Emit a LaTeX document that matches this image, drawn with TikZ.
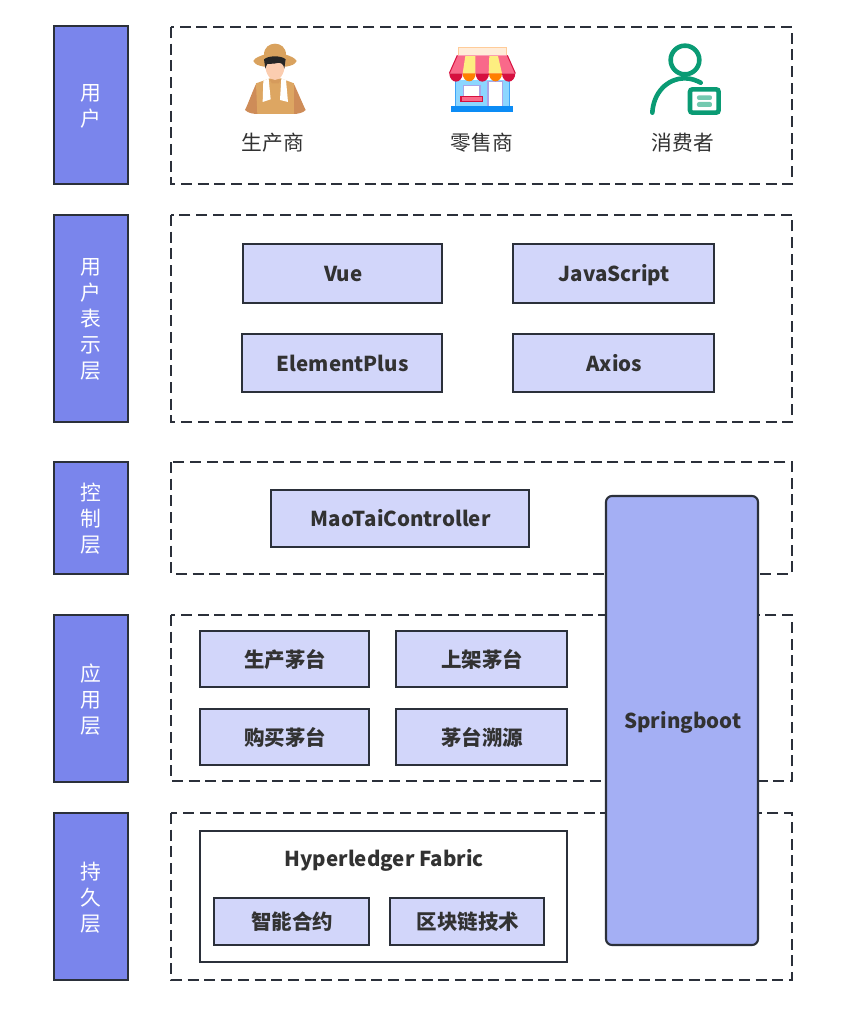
\documentclass[tikz,border=0pt]{standalone}
\usepackage{fontspec}
\setmainfont{Noto Sans CJK SC}
\definecolor{ink}{HTML}{2B303A}
\definecolor{txt}{HTML}{323232}
\definecolor{barfill}{HTML}{7A85EC}
\definecolor{innerfill}{HTML}{D2D6FA}
\definecolor{springfill}{HTML}{A4AFF4}
\definecolor{hatc}{HTML}{D9A25E}
\definecolor{sleeve}{HTML}{CE8C58}
\definecolor{vest}{HTML}{DDA662}
\definecolor{skin}{HTML}{FBCDB0}
\definecolor{awnr}{HTML}{F9698A}
\definecolor{awnd}{HTML}{D6103F}
\definecolor{awny}{HTML}{FDEE80}
\definecolor{shopb}{HTML}{8CD6FF}
\definecolor{shopbase}{HTML}{0C8CF5}
\definecolor{shopp}{HTML}{A9A5E8}
\definecolor{teal}{HTML}{0A9B74}
\definecolor{teall}{HTML}{74C9B0}
\newcommand{\topstrut}{\rule{0pt}{28pt}\kern1.5pt}
\newcommand{\botstrut}{\rule[-12pt]{0pt}{12pt}}
\tikzset{
  x=1pt,y=-1pt,
  struts/.style={execute at begin node=\topstrut,execute at end node=\botstrut},
  base/.style={draw=ink,line width=2.1pt,inner sep=0pt,outer sep=0pt,align=center},
  barbox/.style={base,fill=barfill},
  bartext/.style={inner sep=0pt,align=center,text=white,yshift=-1pt,font=\fontsize{20.8}{26}\selectfont},
  dashbox/.style={draw=ink,line width=2.1pt,dash pattern=on 11pt off 5.7pt},
  inner/.style={base,struts,fill=innerfill,text=txt,font=\fontsize{20.5}{26}\selectfont\bfseries},
  plainbox/.style={draw=ink,line width=2.1pt,inner sep=0pt,outer sep=0pt,fill=white},
  spring/.style={base,struts,fill=springfill,rounded corners=6pt,text=txt,font=\fontsize{20.5}{26}\selectfont\bfseries},
  title/.style={text=txt,inner sep=0pt,align=center,struts,font=\fontsize{20.5}{26}\selectfont\bfseries},
  role/.style={text=txt,inner sep=0pt,align=center,struts,font=\fontsize{20.7}{26}\selectfont},
}
\begin{document}
\begin{tikzpicture}
\useasboundingbox (0,0) rectangle (850,1013);
% dashed groups
\draw[dashbox] (171,27) rectangle (792,184);
\draw[dashbox] (171,215) rectangle (792,422);
\draw[dashbox] (171,462) rectangle (792,574);
\draw[dashbox] (171,615) rectangle (792,781);
\draw[dashbox] (171,813) rectangle (792,980);
% left bars
\node[barbox,minimum width=74pt,minimum height=158pt] (b1) at (91,105) {};
\node[barbox,minimum width=74pt,minimum height=207pt] (b2) at (91,318.5) {};
\node[barbox,minimum width=74pt,minimum height=112pt] (b3) at (91,518) {};
\node[barbox,minimum width=74pt,minimum height=167pt] (b4) at (91,698.5) {};
\node[barbox,minimum width=74pt,minimum height=167pt] (b5) at (91,896.5) {};
\node[bartext] (t1) at (b1.center) {用\\户};
\node[bartext] (t2) at (b2.center) {用\\户\\表\\示\\层};
\node[bartext] (t3) at (b3.center) {控\\制\\层};
\node[bartext] (t4) at (b4.center) {应\\用\\层};
\node[bartext] (t5) at (b5.center) {持\\久\\层};
% presentation
\node[inner,minimum width=199pt,minimum height=59pt] (vue) at (342.5,273.5) {Vue};
\node[inner,minimum width=201pt,minimum height=59pt] (js) at (613.5,273.5) {JavaScript};
\node[inner,minimum width=200pt,minimum height=58pt] (ep) at (342,363) {ElementPlus};
\node[inner,minimum width=201pt,minimum height=58pt] (ax) at (613.5,363) {Axios};
% control
\node[inner,minimum width=258pt,minimum height=57pt] (mt) at (400,518.5) {MaoTaiController};
% springboot
\node[spring,minimum width=152pt,minimum height=449pt] (sb) at (682,720.5) {Springboot};
% application
\node[inner,minimum width=169pt,minimum height=56pt] (a1) at (284.5,659) {生产茅台};
\node[inner,minimum width=171pt,minimum height=56pt] (a2) at (481.5,659) {上架茅台};
\node[inner,minimum width=169pt,minimum height=56pt] (a3) at (284.5,737) {购买茅台};
\node[inner,minimum width=171pt,minimum height=56pt] (a4) at (481.5,737) {茅台溯源};
% persistence
\node[plainbox,minimum width=367pt,minimum height=131pt] (hf) at (383.5,896.5) {};
\node[title] (hft) at (383.5,858) {Hyperledger Fabric};
\node[inner,minimum width=155pt,minimum height=47pt] (p1) at (291.5,921.5) {智能合约};
\node[inner,minimum width=154pt,minimum height=47pt] (p2) at (467,921.5) {区块链技术};
% role labels
\node[role] (r1) at (272,142) {生产商};
\node[role] (r2) at (481,142) {零售商};
\node[role] (r3) at (682,142) {消费者};
% farmer icon (coordinates of a 3x crop)
\begin{scope}[shift={(220,30)},x=0.3333pt,y=-0.3333pt]
  \fill[sleeve] (108,162) .. controls (95,190) and (85,220) .. (75,240) .. controls (85,250) and (100,252) .. (115,252) -- (220,252) .. controls (235,252) and (250,248) .. (257,240) .. controls (245,215) and (235,190) .. (222,162) -- cycle;
  \fill[vest] (108,160) -- (150,145) -- (182,145) -- (222,160) -- (222,252) -- (112,252) -- cycle;
  \fill[hatc!70!sleeve] (148,148) -- (184,148) -- (176,160) -- (156,160) -- cycle;
  \fill[white] (130,152) -- (146,146) -- (152,208) -- (128,216) -- cycle;
  \fill[white] (184,146) -- (198,150) -- (204,216) -- (180,210) -- cycle;
  \fill[hatc] (100,93) .. controls (105,82) and (122,78) .. (132,74) .. controls (132,30) and (198,30) .. (198,74) .. controls (210,78) and (226,84) .. (230,93) .. controls (226,105) and (205,112) .. (165,112) .. controls (125,112) and (104,105) .. (100,93) -- cycle;
  \fill[skin] (134,90) .. controls (140,84) and (190,84) .. (196,90) .. controls (196,125) and (184,150) .. (165,150) .. controls (146,150) and (134,125) .. (134,90) -- cycle;
  \fill[black!85] (132,88) .. controls (145,76) and (185,76) .. (197,88) -- (193,116) .. controls (191,102) and (183,97) .. (172,99) .. controls (160,103) and (148,100) .. (142,102) .. controls (138,108) and (137,113) .. (136,116) -- cycle;
\end{scope}
% shop icon
\begin{scope}[shift={(430,30)},x=0.3333pt,y=-0.3333pt]
  \fill[shopb] (76,150) rectangle (238,230);
  \draw[shopbase!80!white,line width=1pt] (76,150) -- (76,230) (238,150) -- (238,230);
  \fill[white] (174,155) rectangle (217,230);
  \draw[shopp,line width=1.3pt] (174,230) -- (174,155) -- (217,155) -- (217,230);
  \fill[white] (100,166) rectangle (150,200);
  \draw[shopp,line width=1.3pt] (100,166) rectangle (150,200);
  \fill[awnr] (93,199) rectangle (158,215);
  \draw[awnd,line width=1.1pt] (93,199) rectangle (158,215);
  \fill[shopbase] (62,228) rectangle (250,246);
  \fill[white!85!orange] (84,52) rectangle (230,76);
  \draw[orange!40!white,line width=1pt] (84,76) -- (84,52) -- (230,52) -- (230,76);
  \fill[awnr] (82,76) -- (232,76) -- (256,130) -- (58,130) -- cycle;
  \fill[awny] (106,78) -- (136,78) -- (136,130) -- (98,130) -- cycle;
  \fill[awny] (178,78) -- (204,78) -- (216,130) -- (176,130) -- cycle;
  \draw[awnd,line width=1pt] (82,76) -- (58,130) (256,130) -- (232,76);
  \fill[awnd] (58,130) arc[start angle=180,end angle=0,x radius=20,y radius=25] -- cycle;
  \fill[orange] (98,130) arc[start angle=180,end angle=0,x radius=19.5,y radius=24] -- cycle;
  \fill[awnd] (137,130) arc[start angle=180,end angle=0,x radius=20,y radius=25] -- cycle;
  \fill[orange] (177,130) arc[start angle=180,end angle=0,x radius=19.5,y radius=24] -- cycle;
  \fill[awnd] (216,130) arc[start angle=180,end angle=0,x radius=20,y radius=25] -- cycle;
\end{scope}
% consumer icon
\begin{scope}[shift={(630,30)},x=0.3333pt,y=-0.3333pt]
  \draw[teal,line width=4.6pt] (165,90) circle[radius=43];
  \draw[teal,line width=4.6pt,line cap=round] (67,248) .. controls (70,190) and (110,145) .. (165,145) .. controls (185,145) and (200,152) .. (212,158);
  \draw[teal,line width=4.6pt,fill=white,rounded corners=2.5pt] (180,178) rectangle (266,248);
  \fill[teall,rounded corners=2pt] (201,196) rectangle (246,210);
  \fill[teall,rounded corners=2pt] (201,216) rectangle (246,231);
\end{scope}
\end{tikzpicture}
\end{document}
